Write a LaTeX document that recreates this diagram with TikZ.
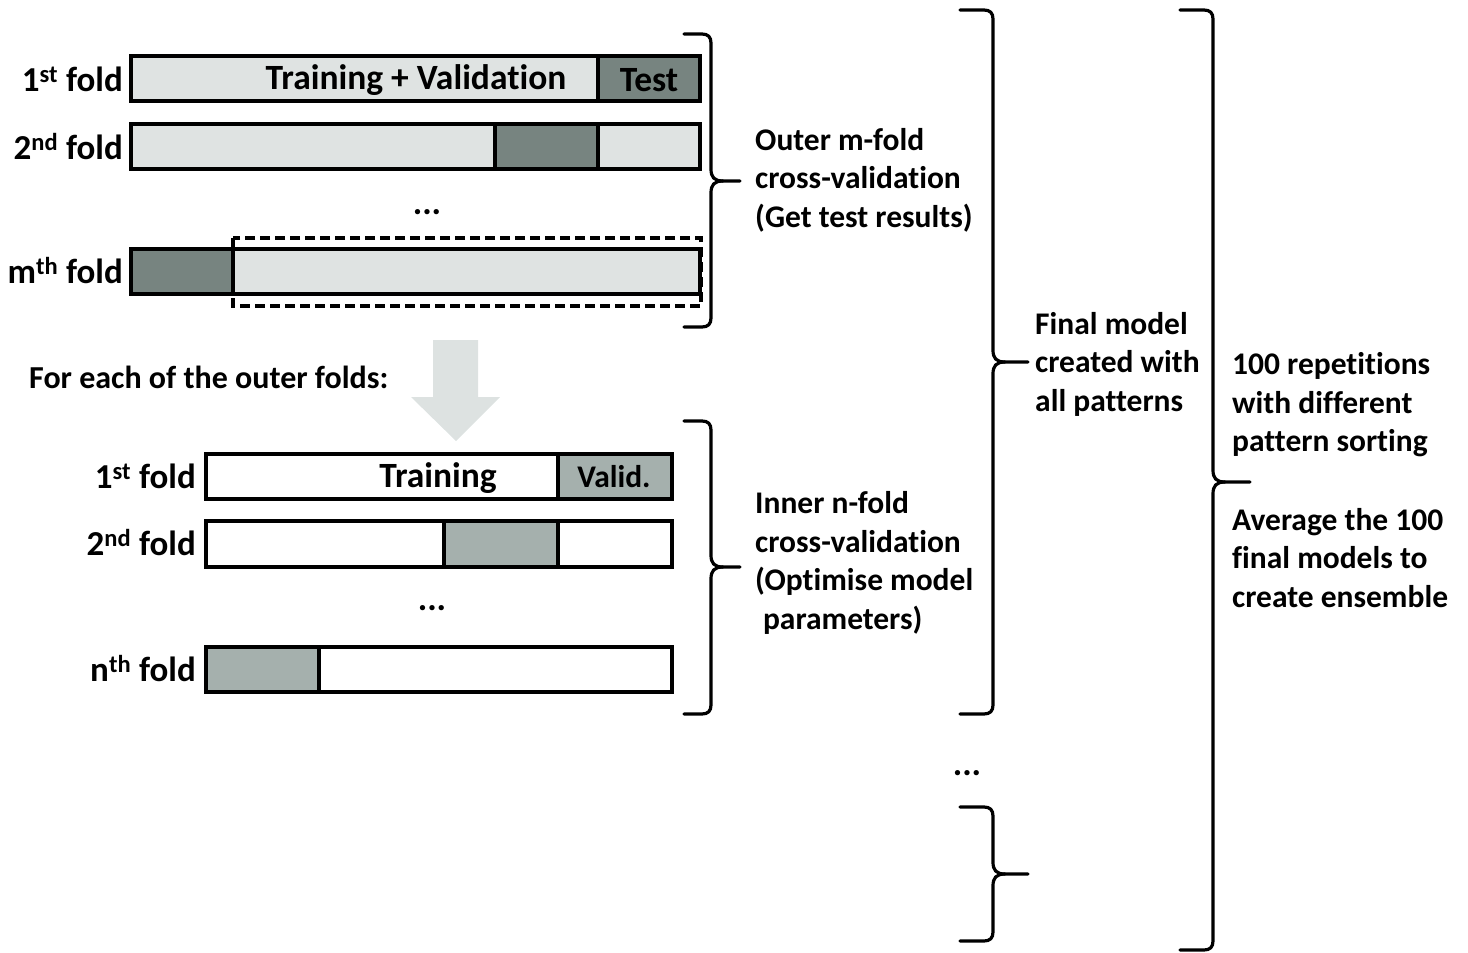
\documentclass[tikz,border=0pt]{standalone}
\usepackage{fontspec}
\setmainfont{Carlito}[Ligatures=NoCommon]
\usepackage{tikz}
\usepackage{xcolor}
\definecolor{vtestgray}{HTML}{778480}
\definecolor{vlightgray}{HTML}{DFE3E2}
\definecolor{vvalidgray}{HTML}{A5B0AD}
\definecolor{varrowgray}{HTML}{DDE2E1}

% #1 end x, #2 spine x, #3 tip x, #4 top y, #5 middle y, #6 bottom y
\newcommand{\cvbrace}[6]{%
	\draw[brace line] (#1,#4) -- ({#2-9},#4) .. controls ({#2-3},#4) and (#2,{#4+3}) .. (#2,{#4+9}) -- (#2,{#5-12}) .. controls (#2,{#5-4}) and ({#2+3},#5) .. ({#2+12},#5) -- (#3,#5);
	\draw[brace line] (#1,#6) -- ({#2-9},#6) .. controls ({#2-3},#6) and (#2,{#6-3}) .. (#2,{#6-9}) -- (#2,{#5+12}) .. controls (#2,{#5+4}) and ({#2+3},#5) .. ({#2+12},#5);
}

\begin{document}
\begin{tikzpicture}[x=1pt,y=-1pt,
		bar/.style={draw=black, line width=3.2pt},
		foldlabel/.style={anchor=east, inner sep=0pt, font=\fontsize{35}{40}\selectfont\bfseries},
		bartext/.style={inner sep=0pt, font=\fontsize{35.5}{40}\selectfont\bfseries},
		cvtext/.style={anchor=west, align=left, inner sep=0pt, font=\fontsize{31.5}{38.5}\selectfont\bfseries},
		brace line/.style={line width=3.2pt, line cap=round}]
		\useasboundingbox (0,0) rectangle (1468,953);

		% outer folds
		\draw[bar, fill=vlightgray] (131,56) rectangle (598,101);
		\draw[bar, fill=vtestgray] (598,56) rectangle (700,101);
		\draw[bar, fill=vlightgray] (131,124) rectangle (700,169);
		\draw[bar, fill=vtestgray] (495,124) rectangle (598,169);
		\draw[bar, fill=vtestgray] (131,249) rectangle (233,294);
		\draw[bar, fill=vlightgray] (233,249) rectangle (700,294);
		\draw[line width=3.2pt, dash pattern=on 10pt off 5pt] (233,238) rectangle (701,306);
		\node[bartext] (trainval) at (416,80) {Training + Validation};
		\node[bartext] (test) at (649,80) {Test};
		\node[foldlabel] (o1) at (123,79) {1\textsuperscript{st} fold};
		\node[foldlabel] (o2) at (123,147) {2\textsuperscript{nd} fold};
		\node[foldlabel] (om) at (123,271) {m\textsuperscript{th} fold};
		\node[bartext] (odots) at (427,212) {...};

		% arrow to the inner folds
		\node[anchor=west, inner sep=0pt, font=\fontsize{32}{38}\selectfont\bfseries] (foreach) at (29,377) {For each of the outer folds:};
		\fill[varrowgray] (433,340) -- (478,340) -- (478,397) -- (500,397) -- (456,441) -- (411,397) -- (433,397) -- cycle;

		% inner folds
		\draw[bar, fill=white] (206,454) rectangle (558,499);
		\draw[bar, fill=vvalidgray] (558,454) rectangle (672,499);
		\draw[bar, fill=white] (206,521) rectangle (672,567);
		\draw[bar, fill=vvalidgray] (444,521) rectangle (558,567);
		\draw[bar, fill=vvalidgray] (206,647) rectangle (319,692);
		\draw[bar, fill=white] (319,647) rectangle (672,692);
		\node[bartext] (train) at (438,478) {Training};
		\node[bartext, font=\fontsize{31.5}{36}\selectfont\bfseries] (valid) at (614,477) {Valid.};
		\node[foldlabel] (i1) at (196,476) {1\textsuperscript{st} fold};
		\node[foldlabel] (i2) at (196,543) {2\textsuperscript{nd} fold};
		\node[foldlabel] (in) at (196,669) {n\textsuperscript{th} fold};
		\node[bartext] (idots) at (432,608) {...};

		% braces
		\cvbrace{684}{711}{740}{34}{181}{327}
		\cvbrace{684}{711}{740}{421}{567}{714}
		\cvbrace{960}{993}{1028}{10}{362}{714}
		\cvbrace{960}{993}{1028}{807}{874}{941}
		\cvbrace{1180}{1213}{1250}{10}{482}{950}
		\node[bartext] (rdots) at (967,773) {...};

		% brace texts
		\node[cvtext] (outer) at (755,180) {Outer m-fold\\cross-validation\\(Get test results)};
		\node[cvtext] (inner) at (755,563) {Inner n-fold\\cross-validation\\(Optimise model\\\hspace{0.25em}parameters)};
		\node[cvtext] (final) at (1035,364) {Final model\\created with\\all patterns};
		\node[cvtext] (reps) at (1232,405) {100 repetitions\\with different\\pattern sorting};
		\node[cvtext] (avg) at (1232,558) {Average the 100\\final models to\\create ensemble};
	\end{tikzpicture}
\end{document}
